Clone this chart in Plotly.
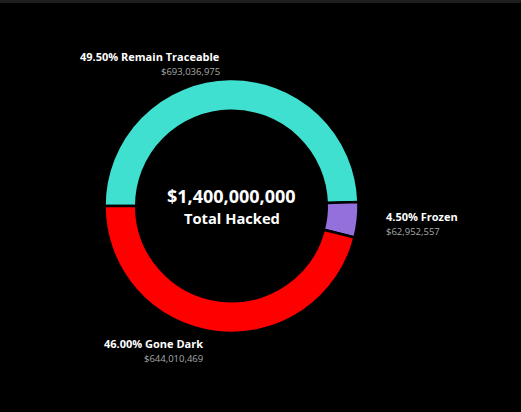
import plotly.graph_objects as go

labels = ["Remain Traceable", "Frozen", "Gone Dark"]
values = [693036975, 62952557, 644010469]
colors = ["#40E0D0", "#9370DB", "#FF0000"]
total_label = "$1,400,000,000"
center_sub = "Total Hacked"

W, H = 521, 412
FONT = "Open Sans"

total = sum(values)
pcts = [v / total * 100 for v in values]

fig = go.Figure(go.Pie(
    labels=labels,
    values=values,
    hole=0.75,
    sort=False,
    direction="clockwise",
    rotation=270,
    marker=dict(colors=colors, line=dict(color="#000000", width=2.5)),
    textinfo="none",
    hoverinfo="none",
    showlegend=False,
    domain=dict(x=[(231.5 - 127) / W, (231.5 + 127) / W],
                y=[0.5 - 127 / H, 0.5 + 127 / H]),
))

def px(x):
    return x / W

def py(y):
    return 1 - y / H

# label layout: (x, y of first line, anchor)
label_pos = {
    "Remain Traceable": (221.5, 56.5, "right"),
    "Frozen": (383.5, 216.5, "left"),
    "Gone Dark": (205, 343.5, "right"),
}

ann = []
for lab, v, p in zip(labels, values, pcts):
    x, y, anc = label_pos[lab]
    ann.append(dict(x=px(x), y=py(y), xref="paper", yref="paper",
                    xanchor=anc, yanchor="middle", showarrow=False,
                    text=f"<b>{p:.2f}% {lab}</b>",
                    font=dict(family=FONT, size=11, color="#ffffff")))
    ann.append(dict(x=px(x), y=py(y + 15), xref="paper", yref="paper",
                    xanchor=anc, yanchor="middle", showarrow=False,
                    text=f"${v:,}",
                    font=dict(family=FONT, size=9.5, color="#a8a8a8")))

ann.append(dict(x=px(231.5), y=py(195.5), xref="paper", yref="paper",
                xanchor="center", yanchor="middle", showarrow=False,
                text=f"<b>{total_label}</b>",
                font=dict(family=FONT, size=18, color="#ffffff")))
ann.append(dict(x=px(231.5), y=py(217.5), xref="paper", yref="paper",
                xanchor="center", yanchor="middle", showarrow=False,
                text=f"<b>{center_sub}</b>",
                font=dict(family=FONT, size=14.7, color="#ffffff")))

fig.update_layout(
    width=W, height=H,
    margin=dict(l=0, r=0, t=0, b=0),
    paper_bgcolor="#000000",
    plot_bgcolor="#000000",
    annotations=ann,
    shapes=[dict(type="rect", xref="paper", yref="paper",
                 x0=0, x1=1, y0=1 - 3 / H, y1=1,
                 fillcolor="#1e1e20", line=dict(width=0), layer="above")],
)

fig.write_html("out.html",
               config={"displayModeBar": False},
               post_script="document.body.style.margin='0';document.body.style.background='#000';")
